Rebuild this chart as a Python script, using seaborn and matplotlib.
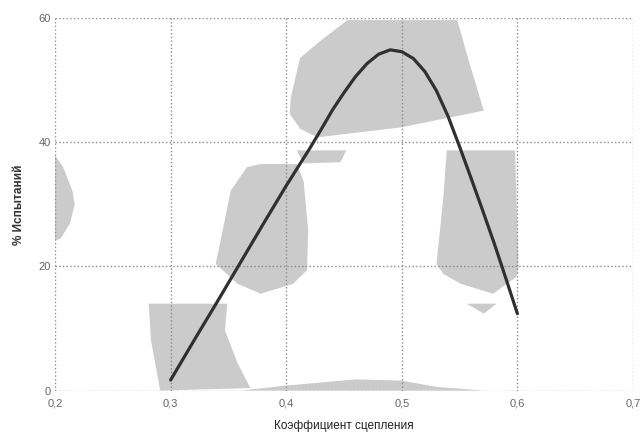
import matplotlib
matplotlib.use("Agg")
import matplotlib.pyplot as plt
import seaborn as sns
import pandas as pd

# curve: % of tests vs adhesion coefficient
coef = [0.30, 0.32, 0.34, 0.36, 0.38, 0.40, 0.42, 0.43, 0.44, 0.45, 0.46,
        0.47, 0.48, 0.49, 0.50, 0.51, 0.52, 0.53, 0.54, 0.55, 0.56, 0.57,
        0.58, 0.59, 0.60]
pct = [1.7, 8.0, 14.2, 20.5, 26.8, 33.0, 38.9, 42.0, 45.2, 48.0, 50.6,
       52.7, 54.2, 54.9, 54.6, 53.5, 51.4, 48.3, 44.2, 39.3, 34.2, 29.0,
       23.7, 18.1, 12.4]

# grey shaded areas of the scan (remains of the histogram fill), data units
blob_top_x = [0.453, 0.430, 0.412, 0.404, 0.403, 0.412, 0.427, 0.499, 0.571, 0.558, 0.548]
blob_top_y = [59.7, 56.4, 53.6, 47.2, 44.6, 42.2, 40.8, 42.4, 45.1, 53.1, 59.7]
blob_strip_x = [0.409, 0.452, 0.447, 0.415]
blob_strip_y = [38.7, 38.7, 36.8, 36.6]
blob_mid_x = [0.366, 0.378, 0.409, 0.415, 0.419, 0.418, 0.406, 0.378, 0.358, 0.339, 0.345, 0.352]
blob_mid_y = [36.0, 36.5, 36.5, 33.8, 25.8, 19.4, 17.2, 15.6, 17.2, 20.4, 25.8, 32.2]
blob_low_x = [0.281, 0.349, 0.347, 0.358, 0.369, 0.291, 0.283]
blob_low_y = [14.0, 14.0, 9.7, 4.4, 0.4, 0.0, 8.1]
blob_right_x = [0.539, 0.598, 0.601, 0.599, 0.579, 0.551, 0.536, 0.530, 0.536, 0.538]
blob_right_y = [38.7, 38.7, 19.9, 18.3, 15.6, 17.2, 18.8, 20.4, 31.2, 36.5]
blob_small_x = [0.556, 0.582, 0.571]
blob_small_y = [14.0, 14.0, 12.4]
blob_base_x = [0.361, 0.40, 0.46, 0.50, 0.53, 0.57]
blob_base_y = [0.0, 0.8, 1.8, 1.6, 0.6, 0.0]
blob_left_x = [0.200, 0.207, 0.215, 0.217, 0.213, 0.205, 0.200]
blob_left_y = [37.9, 36.0, 32.2, 30.0, 27.0, 24.5, 24.2]

x_ticks = [0.2, 0.3, 0.4, 0.5, 0.6, 0.7]
x_tick_labels = ["0,2", "0,3", "0,4", "0,5", "0,6", "0,7"]
y_ticks = [0, 20, 40, 60]

sns.set_theme(style="white")
plt.rcParams['font.family'] = ['Liberation Sans', 'DejaVu Sans']

fig = plt.figure(figsize=(6.4, 4.33), dpi=100)
ax = fig.add_axes([0.086, 0.098, 0.903, 0.86])

blobs = [(blob_top_x, blob_top_y), (blob_strip_x, blob_strip_y),
         (blob_mid_x, blob_mid_y), (blob_low_x, blob_low_y),
         (blob_right_x, blob_right_y), (blob_small_x, blob_small_y),
         (blob_base_x, blob_base_y), (blob_left_x, blob_left_y)]
for bx, by in blobs:
    ax.fill(bx, by, color="#cbcbcb", lw=0, zorder=1)

df = pd.DataFrame({"coef": coef, "pct": pct})
sns.lineplot(data=df, x="coef", y="pct", color="#303030", lw=2.3, ax=ax, zorder=3)

ax.set_xlim(0.2, 0.7)
ax.set_ylim(0, 60)
ax.set_xticks(x_ticks)
ax.set_xticklabels(x_tick_labels)
ax.set_yticks(y_ticks)
ax.grid(True, color="#8a8a8a", linestyle=":", linewidth=1.0, zorder=2)
ax.set_axisbelow(False)
for s in ax.spines.values():
    s.set_visible(False)
ax.tick_params(axis="both", length=0, labelsize=8, labelcolor="#666666")
ax.tick_params(axis="x", pad=6)
ax.tick_params(axis="y", pad=3)

ax.set_xlabel("Коэффициент сцепления", fontsize=8.5, color="#222222", labelpad=8)
ax.set_ylabel("% Испытаний", fontsize=8.5, color="#333333", fontweight="bold", labelpad=10)

fig.savefig("out.png", dpi=100)
